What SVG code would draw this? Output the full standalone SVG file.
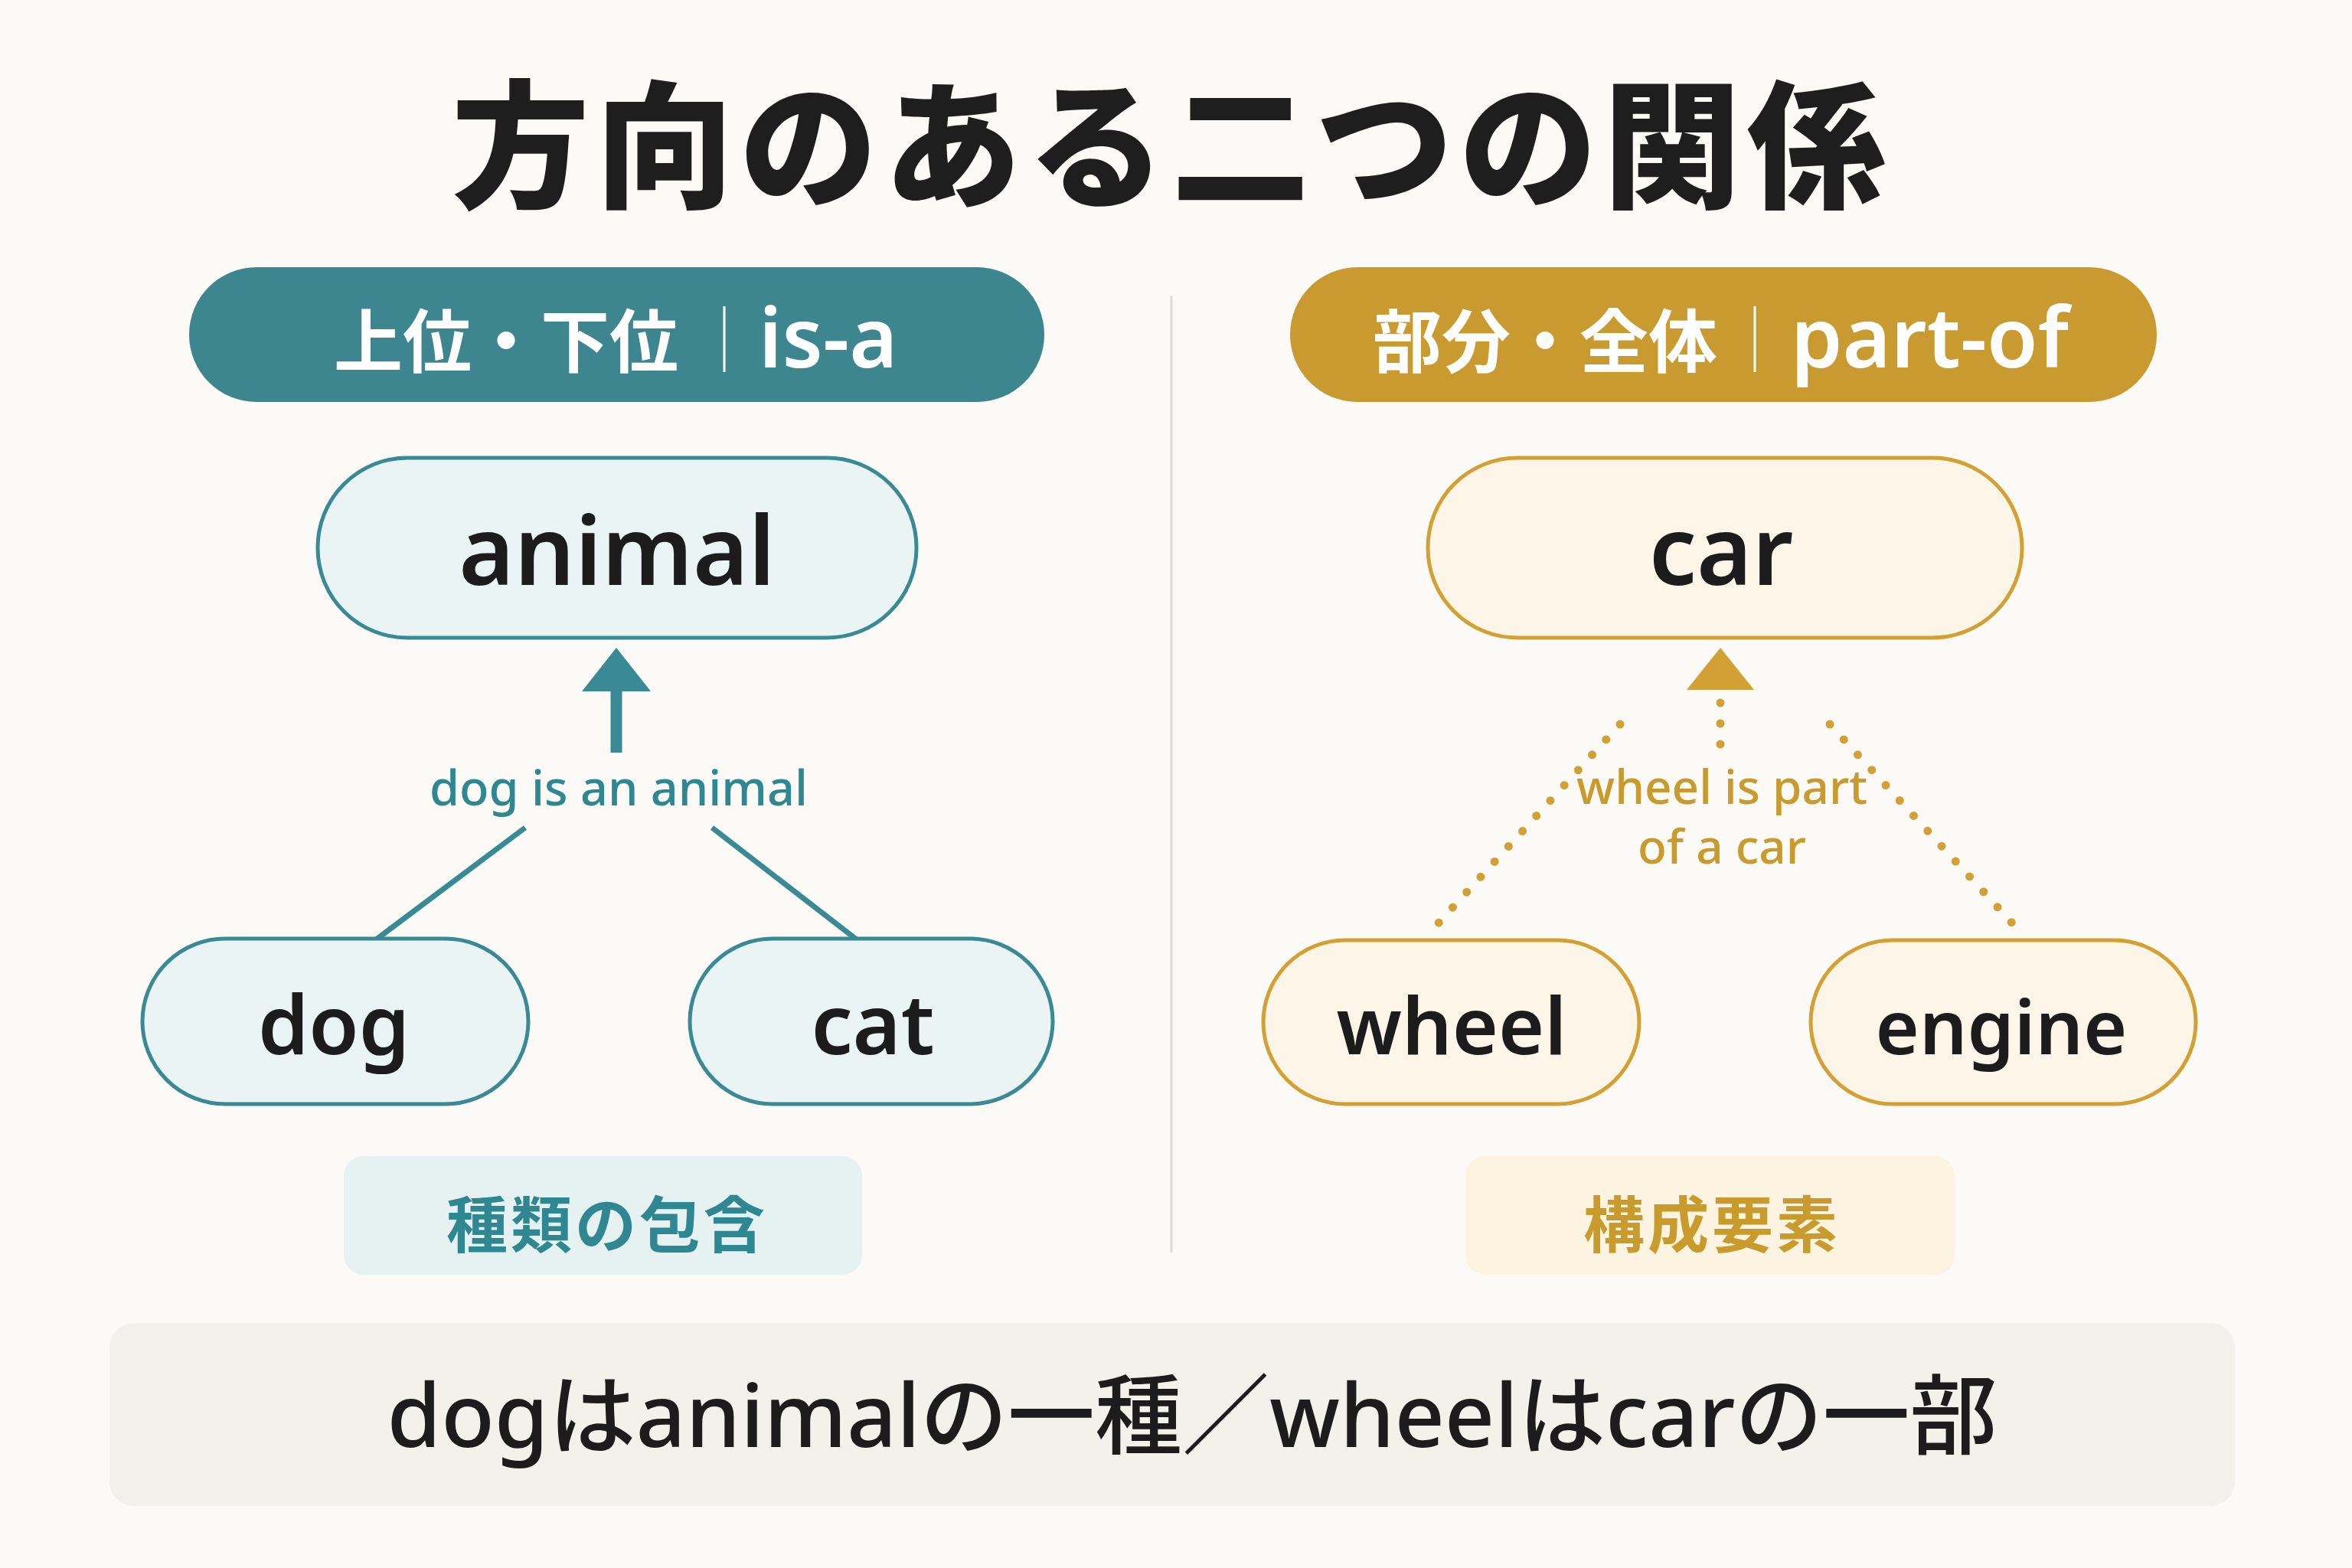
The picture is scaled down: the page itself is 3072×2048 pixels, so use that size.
<svg xmlns="http://www.w3.org/2000/svg" width="3072" height="2048" viewBox="0 0 3072 2048">
<defs>
<style>
.cjk{font-family:"Noto Sans CJK JP","Noto Sans",sans-serif;}
.lat{font-family:"Noto Sans","Open Sans","Noto Sans CJK JP",sans-serif;}
.title{font-size:180px;font-weight:900;fill:#1e1e1e;}
.hdr{font-size:90px;font-weight:700;fill:#ffffff;}
.hdrl{font-size:108px;font-weight:600;fill:#ffffff;}
.tnode{fill:#eaf4f4;stroke:#3a8a95;stroke-width:5;}
.gnode{fill:#fdf6e8;stroke:#d3a033;stroke-width:5;}
.ntext{font-weight:600;fill:#1c1c1c;text-anchor:middle;}
.tlabel{font-size:63px;font-weight:500;fill:#2f8792;text-anchor:middle;}
.glabel{font-size:62px;font-weight:500;fill:#c99a2c;text-anchor:middle;}
.dots{fill:none;stroke:#d2a035;stroke-width:11;stroke-linecap:round;stroke-dasharray:0 27;}
</style>
</defs>
<rect x="0" y="0" width="3072" height="2048" fill="#fbfaf6"/>

<g id="title">
<text class="cjk title" x="1530" y="178" text-anchor="middle" dominant-baseline="central" letter-spacing="8">方向のある二つの関係</text>
</g>

<line id="divider" x1="1530" y1="386" x2="1530" y2="1636" stroke="#dddbd5" stroke-width="3"/>

<g id="header-isa">
<rect x="247" y="349" width="1117" height="176" rx="88" fill="#3d8690"/>
<text class="cjk hdr" x="661" y="440" text-anchor="middle" dominant-baseline="central">上位・下位</text>
<line x1="946" y1="400" x2="946" y2="486" stroke="#ffffff" stroke-width="3"/>
<text class="lat hdrl" x="991" y="480">is-a</text>
</g>

<g id="header-partof">
<rect x="1685" y="349" width="1132" height="176" rx="88" fill="#c99a2f"/>
<text class="cjk hdr" x="2018" y="440" text-anchor="middle" dominant-baseline="central">部分・全体</text>
<line x1="2292" y1="400" x2="2292" y2="486" stroke="#ffffff" stroke-width="3"/>
<text class="lat hdrl" x="2339" y="480">part-of</text>
</g>

<g id="connectors">
<polygon points="805,846 760,903 850,903" fill="#3a8a95"/>
<line x1="805" y1="900" x2="805" y2="983" stroke="#3a8a95" stroke-width="15"/>
<line x1="686" y1="1081" x2="490" y2="1228" stroke="#3a8a95" stroke-width="7"/>
<line x1="930" y1="1081" x2="1120" y2="1228" stroke="#3a8a95" stroke-width="7"/>
<polygon points="2247,846 2203,901 2291,901" fill="#d2a035"/>
<line class="dots" x1="2247" y1="918" x2="2247" y2="980"/>
<line class="dots" x1="2116" y1="946" x2="1862" y2="1224"/>
<line class="dots" x1="2390" y1="946" x2="2645" y2="1224"/>
<text class="lat tlabel" x="808" y="1052">dog is an animal</text>
<text class="lat glabel" x="2249" y="1050">wheel is part</text>
<text class="lat glabel" x="2249" y="1128">of a car</text>
</g>

<g id="node-animal">
<rect class="tnode" x="415" y="598" width="782" height="235" rx="117"/>
<text class="lat ntext" x="806" y="764" font-size="124">animal</text>
</g>
<g id="node-dog">
<rect class="tnode" x="186" y="1226" width="504" height="216" rx="108"/>
<text class="lat ntext" x="436" y="1377" font-size="106">dog</text>
</g>
<g id="node-cat">
<rect class="tnode" x="901" y="1226" width="474" height="216" rx="108"/>
<text class="lat ntext" x="1140" y="1377" font-size="108">cat</text>
</g>

<g id="node-car">
<rect class="gnode" x="1865" y="598" width="776" height="235" rx="117"/>
<text class="lat ntext" x="2248" y="764" font-size="124">car</text>
</g>
<g id="node-wheel">
<rect class="gnode" x="1650" y="1228" width="491" height="214" rx="107"/>
<text class="lat ntext" x="1896" y="1377" font-size="103">wheel</text>
</g>
<g id="node-engine">
<rect class="gnode" x="2365" y="1228" width="503" height="214" rx="107"/>
<text class="lat ntext" x="2614" y="1377" font-size="98">engine</text>
</g>

<g id="note-isa">
<rect x="449" y="1510" width="677" height="155" rx="26" fill="#e6f1f2"/>
<text class="cjk" x="793" y="1594" font-size="80" font-weight="700" fill="#2f8792" text-anchor="middle" dominant-baseline="central" letter-spacing="4">種類の包含</text>
</g>
<g id="note-partof">
<rect x="1914" y="1510" width="639" height="155" rx="26" fill="#fcf3e1"/>
<text class="cjk" x="2236" y="1594" font-size="80" font-weight="700" fill="#c99a2c" text-anchor="middle" dominant-baseline="central" letter-spacing="4">構成要素</text>
</g>

<g id="summary">
<rect x="143" y="1728" width="2776" height="239" rx="32" fill="#f3f1eb"/>
<text class="lat" x="1557" y="1890" font-size="114" font-weight="500" fill="#1c1c1c" text-anchor="middle">dogはanimalの一種／wheelはcarの一部</text>
</g>
</svg>
